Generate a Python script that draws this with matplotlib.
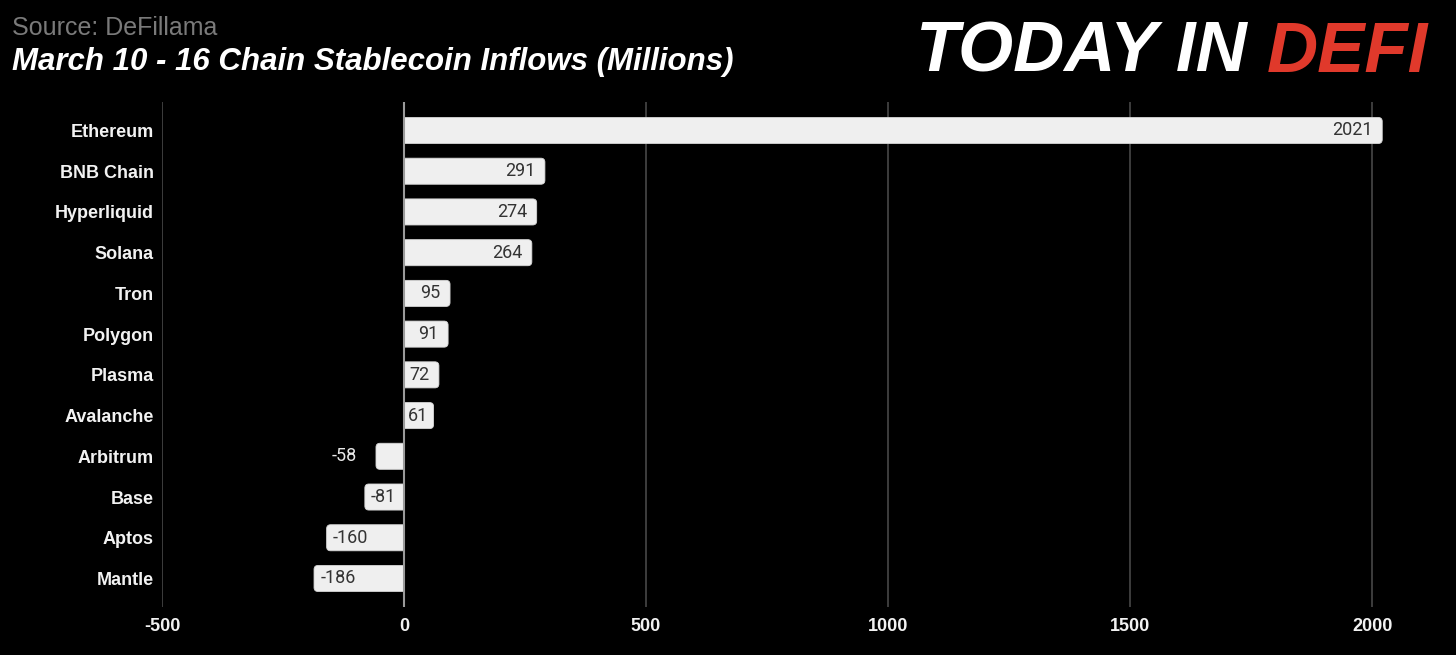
import matplotlib
matplotlib.use("Agg")
import matplotlib.pyplot as plt
from matplotlib.patches import PathPatch
from matplotlib.path import Path

# data
chains = ["Ethereum", "BNB Chain", "Hyperliquid", "Solana", "Tron", "Polygon",
          "Plasma", "Avalanche", "Arbitrum", "Base", "Aptos", "Mantle"]
inflows = [2021, 291, 274, 264, 95, 91, 72, 61, -58, -81, -160, -186]
xticks = [-500, 0, 500, 1000, 1500, 2000]

plt.rcParams['font.family'] = ['Liberation Sans', 'DejaVu Sans']

fig = plt.figure(figsize=(14.56, 6.55), dpi=100, facecolor='black')
ax = fig.add_axes([0.1113, 0.0733, 0.851, 0.771])
ax.set_facecolor('black')

ypos = list(range(len(chains)))
bars = ax.barh(ypos, inflows, height=0.64, color='#efefef', zorder=3)

# redraw each bar with a rounded outer end (radius ~4 px)
rx, ry = 8.3, 0.098
for b in bars:
    b.set_visible(False)
    x0, yb, w, h = b.get_x(), b.get_y(), b.get_width(), b.get_height()
    x1, yt = x0 + w, yb + h
    s = 1 if w >= 0 else -1
    verts = [(x0, yb), (x1 - s * rx, yb), (x1, yb), (x1, yb + ry),
             (x1, yt - ry), (x1, yt), (x1 - s * rx, yt), (x0, yt), (x0, yb)]
    codes = [Path.MOVETO, Path.LINETO, Path.CURVE3, Path.CURVE3,
             Path.LINETO, Path.CURVE3, Path.CURVE3, Path.LINETO, Path.CLOSEPOLY]
    ax.add_patch(PathPatch(Path(verts, codes), fc='#efefef', ec='#d6d6d6',
                           lw=0.6, zorder=3))

ax.set_xlim(-500, 2060)
ax.set_ylim(len(chains) - 0.3, -0.7)
ax.set_xticks(xticks)
ax.set_xticklabels([str(t) for t in xticks])
ax.set_yticks(ypos)
ax.set_yticklabels(chains)
ax.tick_params(axis='both', length=0, colors='white', labelsize=13)
ax.tick_params(axis='y', pad=6)
ax.tick_params(axis='x', pad=8)
for lab in ax.get_xticklabels() + ax.get_yticklabels():
    lab.set_fontweight('bold')
    lab.set_color('#f2f2f2')

ax.grid(axis='x', color='#474747', linewidth=1.2, zorder=0)
ax.axvline(0, color='#9a9a9a', linewidth=1.5, zorder=4)
for s in ax.spines.values():
    s.set_visible(False)

# value labels
vfont = dict(fontsize=13, family=['Roboto', 'DejaVu Sans'], va='center', zorder=5)
for y, v in zip(ypos, inflows):
    if v >= 65:
        ax.annotate(str(v), (v, y), xytext=(-7, 0), textcoords='offset points',
                    ha='right', color='#333333', **vfont)
    elif v >= 0:
        ax.annotate(str(v), (0, y), xytext=(3, 0), textcoords='offset points',
                    ha='left', color='#333333', **vfont)
    elif v > -70:
        ax.annotate(str(v), (v, y), xytext=(-14, 0), textcoords='offset points',
                    ha='right', color='#e8e8e8', **vfont)
    else:
        ax.annotate(str(v), (v, y), xytext=(4.5, 0), textcoords='offset points',
                    ha='left', color='#333333', **vfont)

# header
fig.text(12 / 1456, 1 - 28 / 655, "Source: DeFillama", color='#7a7a7a',
         fontsize=18, va='center', ha='left')
fig.text(12 / 1456, 1 - 62 / 655, "March 10 - 16 Chain Stablecoin Inflows (Millions)",
         color='white', fontsize=22.5, fontweight='bold', fontstyle='italic',
         va='center', ha='left')

logo_y = 1 - 54 / 655
t1 = fig.text(916 / 1456, logo_y, "TODAY IN ", color='white', fontsize=51,
              fontweight='bold', fontstyle='italic', va='center', ha='left')
fig.canvas.draw()
bb = t1.get_window_extent()
fig.text(bb.x1 / 1456, logo_y, "DEFI", color='#e0392b', fontsize=51,
         fontweight='bold', fontstyle='italic', va='center', ha='left')

fig.savefig("out.png", dpi=100, facecolor='black')
